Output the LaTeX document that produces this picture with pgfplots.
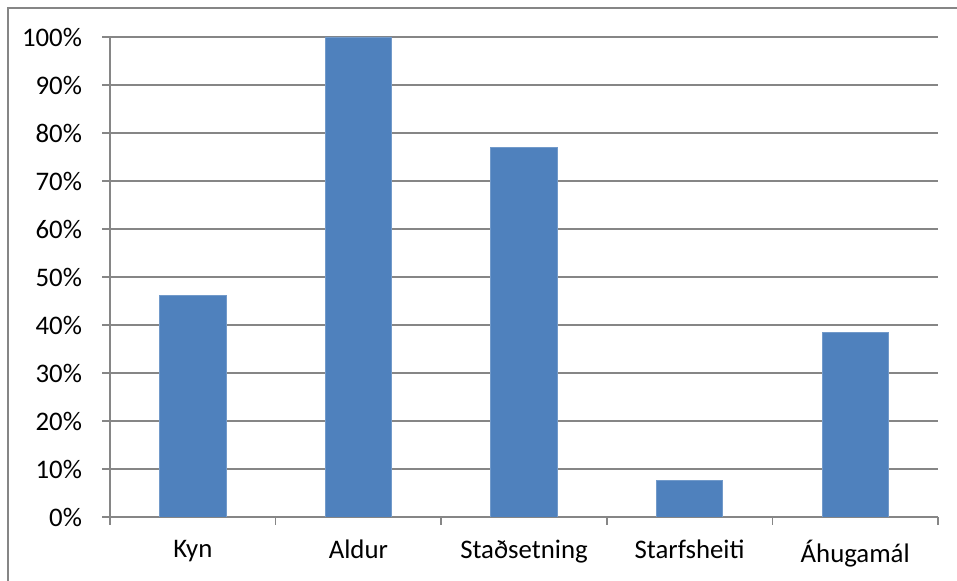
\documentclass[border=0pt]{standalone}
\usepackage{pgfplots}
\pgfplotsset{compat=1.18}
\usepackage{fontspec}
\setmainfont{Carlito}
\definecolor{barblue}{HTML}{4F81BD}
\definecolor{gridgrey}{HTML}{868686}
\begin{document}
\begin{tikzpicture}[x=1pt,y=1pt]
  \useasboundingbox (0,0) rectangle (478.5,290.5);
  % chart frame (left and top edges)
  \draw[gridgrey, line width=0.75pt] (4,0) -- (4,286.5) -- (478.5,286.5);
  \begin{axis}[
    at={(55pt,32pt)}, anchor=south west,
    width=414pt, height=240pt, scale only axis,
    xmin=-0.5, xmax=4.5, ymin=0, ymax=100,
    axis x line*=bottom, axis y line*=left,
    axis line style={gridgrey, line width=0.75pt, -},
    xtick={0,1,2,3,4},
    xticklabels={Kyn, Aldur, Staðsetning, Starfsheiti, Áhugamál},
    major x tick style={draw=none},
    minor xtick={-0.5,0.5,1.5,2.5,3.5,4.5},
    minor x tick style={gridgrey, line width=0.75pt},
    minor tick length=4pt,
    ytick={0,10,...,100},
    yticklabels={0\%,10\%,20\%,30\%,40\%,50\%,60\%,70\%,80\%,90\%,100\%},
    y tick style={gridgrey, line width=0.75pt},
    major tick length=4pt,
    tick align=outside,
    ymajorgrids,
    grid style={gridgrey, line width=0.75pt},
    tick label style={font=\fontsize{13.4}{15}\selectfont, black},
    xticklabel style={yshift=-4pt},
    yticklabel style={xshift=-6.5pt},
    /pgf/number format/assume math mode=true,
  ]
    \addplot[ybar, bar width=0.4, fill=barblue, draw=barblue!80!white, line width=0.4pt]
      coordinates {(0,46.15) (1,100) (2,76.92) (3,7.69) (4,38.46)};
  \end{axis}
\end{tikzpicture}
\end{document}
